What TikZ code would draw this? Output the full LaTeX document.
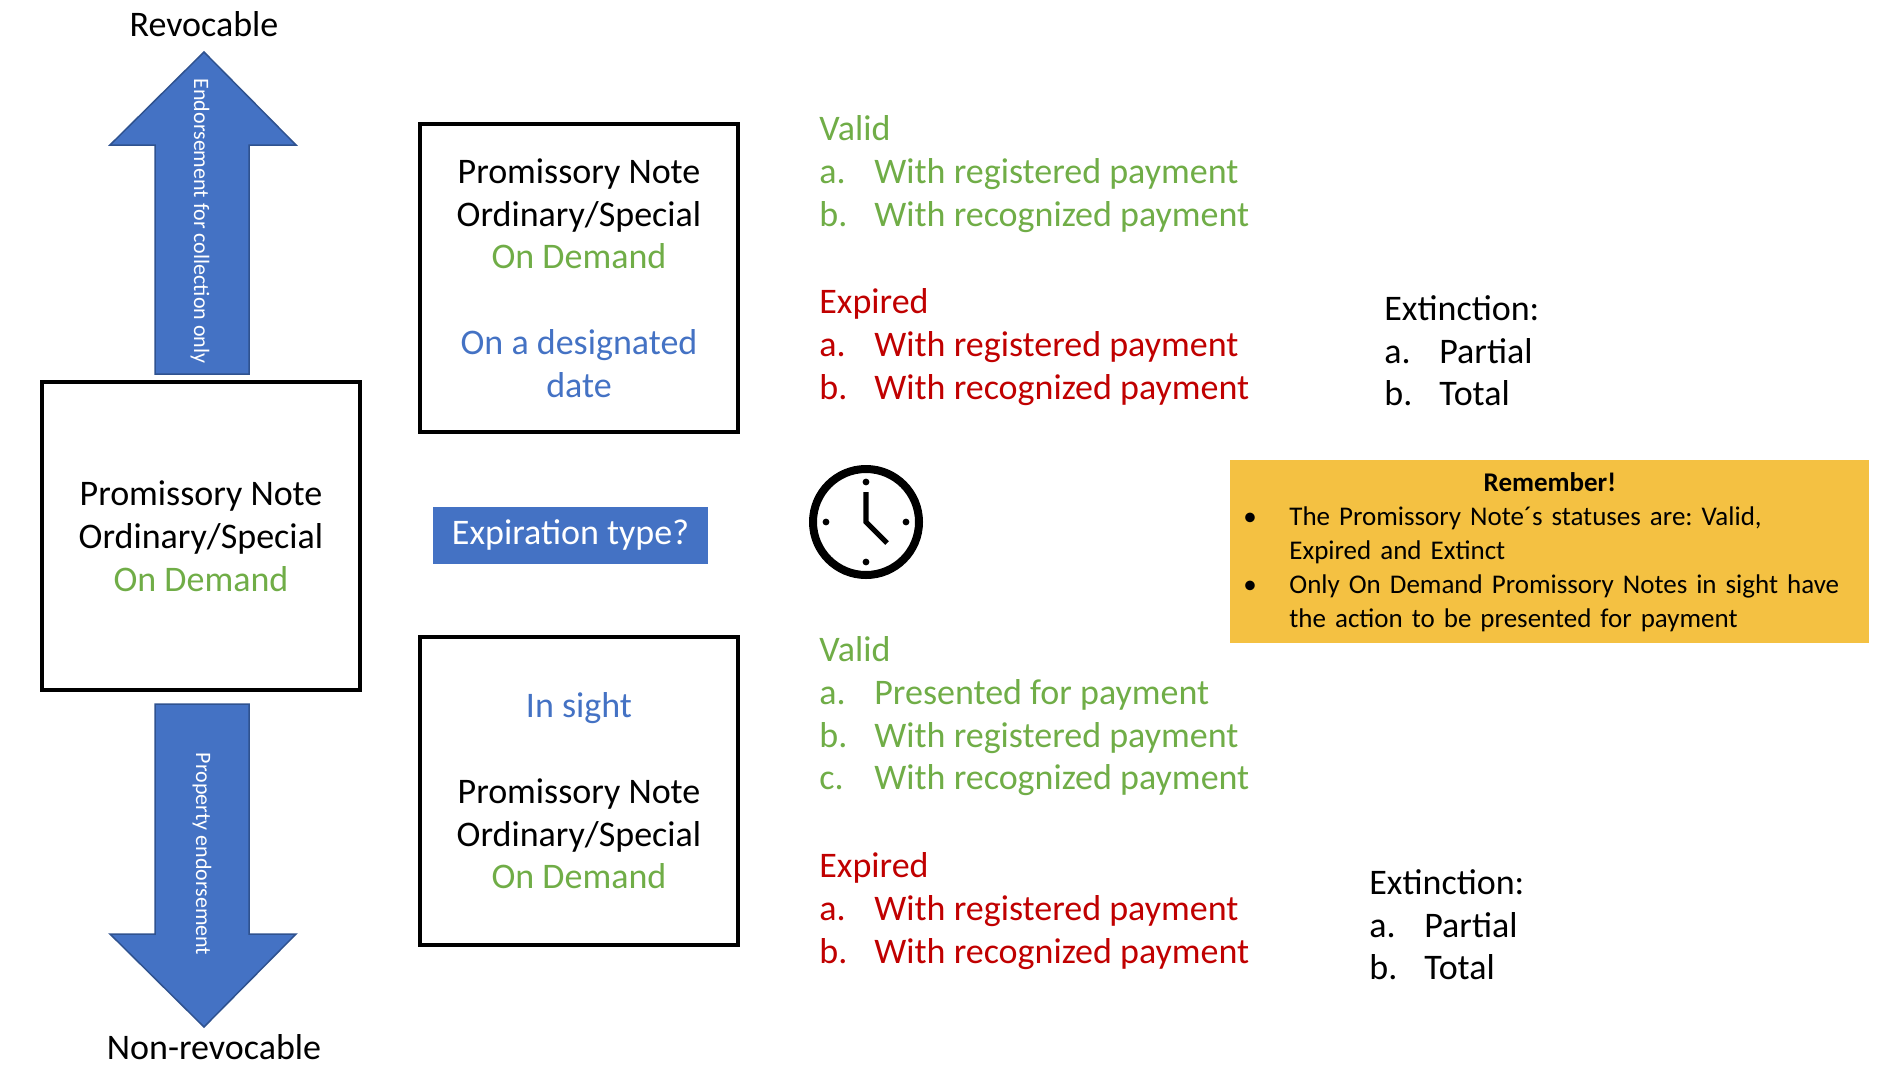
\documentclass[tikz,border=0pt]{standalone}
\usepackage{fontspec}
\setmainfont{Carlito}
\frenchspacing
\definecolor{okgreen}{RGB}{112,173,71}
\definecolor{okred}{RGB}{192,0,0}
\definecolor{okblue}{RGB}{68,114,196}
\definecolor{okedge}{RGB}{47,82,143}
\definecolor{okgold}{RGB}{244,193,66}
\newcommand{\bodyfont}{\fontsize{18}{21.4}\selectfont}
\newcommand{\notefont}{\fontsize{13.5}{17}\selectfont}
\newcommand{\lbl}[1]{\makebox[27.5pt][l]{#1}}
\newcommand{\bul}{\noindent\hangindent=20.5pt\hangafter=1\makebox[20.5pt][l]{\hspace{-2.5pt}\textbullet}}

\begin{document}
\begin{tikzpicture}[x=0.5pt, y=-0.5pt,
		every node/.style={font=\bodyfont, inner sep=0pt},
		notebox/.style={draw, line width=2.4pt, minimum width=159pt, minimum height=154pt, align=center},
		bigarrow/.style={fill=okblue, draw=okedge, line width=0.75pt},
		arrowtext/.style={text=white, rotate=-90, font=\fontsize{11}{13}\selectfont},
		status/.style={anchor=north west, align=left}]
				\useasboundingbox (0, 0) rectangle (1880, 1072);
				\node (revocable) at (204, 24) {Revocable};
				\node (nonrevocable) at (214, 1047) {Non-revocable};
				\draw[bigarrow] (204, 52) -- (296, 145) -- (249, 145) -- (249, 374) -- (155, 374) -- (155, 145) -- (110, 145) -- cycle;
				\node[arrowtext] (collection) at (200, 221) {Endorsement for collection only};
				\draw[bigarrow] (155, 704) -- (249, 704) -- (249, 934) -- (296, 934) -- (204, 1027) -- (110, 934) -- (155, 934) -- cycle;
				\node[arrowtext] (property) at (202, 854) {Property endorsement};
				\node[notebox] (demandnote) at (201, 536) {Promissory Note\\Ordinary/Special\\\textcolor{okgreen}{On Demand}};
				\node[notebox] (datenote) at (579, 278) {Promissory Note\\Ordinary/Special\\\textcolor{okgreen}{On Demand}\\[21.4pt]\textcolor{okblue}{On a designated}\\\textcolor{okblue}{date}};
				\node[notebox] (sightnote) at (579, 791) {\textcolor{okblue}{In sight}\\[21.4pt]Promissory Note\\Ordinary/Special\\\textcolor{okgreen}{On Demand}};
				\node[fill=okblue, text=white, minimum width=137.5pt, minimum height=28.5pt] (exptype) at (570.5, 535) {Expiration type?};
				\node[circle, draw, line width=4pt, minimum size=53pt] (clock) at (866, 522) {};
				\foreach \a in {0, 90, 180, 270}
					\fill (clock.center) ++(\a:20pt) circle (1.7pt);
				\draw[line width=2.6pt] (clock.center) ++(0, -30) -- (clock.center) -- ++(21, 21);
				\node[status, text=okgreen] (validdate) at (819, 115) {Valid\\\lbl{a.}With registered payment\\\lbl{b.}With recognized payment};
				\node[status, text=okred] (expireddate) at (819, 288) {Expired\\\lbl{a.}With registered payment\\\lbl{b.}With recognized payment};
				\node[status] (extinctdate) at (1384, 295) {Extinction:\\\lbl{a.}Partial\\\lbl{b.}Total};
				\node[status, text=okgreen] (validsight) at (819, 636) {Valid\\\lbl{a.}Presented for payment\\\lbl{b.}With registered payment\\\lbl{c.}With recognized payment};
				\node[status, text=okred] (expiredsight) at (819, 852) {Expired\\\lbl{a.}With registered payment\\\lbl{b.}With recognized payment};
				\node[status] (extinctsight) at (1369, 869) {Extinction:\\\lbl{a.}Partial\\\lbl{b.}Total};
				\node[fill=okgold, anchor=north west, text width=301.5pt, inner xsep=9pt, minimum height=91.5pt, font=\notefont] (remember) at (1230, 460) {\centering\textbf{Remember!}\par\raggedright
					\bul The Promissory Note´s statuses are: Valid,\newline Expired and Extinct\par
					\bul Only On Demand Promissory Notes in sight have\newline the action to be presented for payment\par};
			\end{tikzpicture}
\end{document}
